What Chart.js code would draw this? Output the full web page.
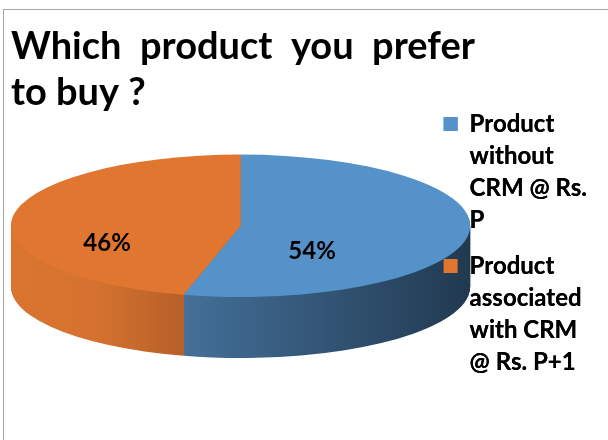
<!DOCTYPE html>
<html>
<head>
<meta charset="utf-8">
<script src="https://cdn.jsdelivr.net/npm/chart.js@4.4.1/dist/chart.umd.min.js"></script>
<style>
  html, body { margin: 0; padding: 0; background: #fff; overflow: hidden; }
  #wrap { position: relative; width: 608px; height: 440px; }
  #frame { position: absolute; left: 3px; top: 9px; width: 700px; height: 500px; border: 1px solid #a6a6a6; pointer-events: none; }
</style>
</head>
<body>
<div id="wrap">
  <canvas id="pieChart" width="608" height="440"></canvas>
  <div id="frame"></div>
</div>
<script>
// chart data
const categories = [
    ['Product', 'without', 'CRM @ Rs.', 'P'],
    ['Product', 'associated', 'with CRM', '@ Rs. P+1']
];
const shares = [54, 46];
const titleLines = ['Which  product  you  prefer', 'to buy ?'];

// colours: top face and the gradient of the side wall
const topColors = ['#5592ca', '#e0762f'];
const sideStops = [
    [[0, '#5a8ab8'], [0.36, '#45719b'], [1, '#213950']],
    [[0, '#da7530'], [0.18, '#d5722f'], [0.36, '#b9612a']]
];

// draws the pie as a tilted disc with a side wall, then the % labels
const pie3d = {
    id: 'pie3d',
    beforeDatasetsDraw(chart, args, opts) {
        const arcs = chart.getDatasetMeta(0).data;
        if (!arcs.length) return;
        const ctx = chart.ctx;
        const area = chart.chartArea;
        const R = arcs[0].outerRadius;
        const ox = arcs[0].x, oy = arcs[0].y;
        const rx = area.width / 2 * opts.reach;
        const ry = rx * opts.tilt;
        const depth = Math.round(rx * opts.depth);
        const cx = area.left + rx;
        const cy = area.top + (area.height - 2 * ry - depth) * opts.vAlign + ry;

        const grad = stops => {
            const g = ctx.createLinearGradient(ox - R, 0, ox + R, 0);
            stops.forEach(([p, c]) => g.addColorStop(p, c));
            return g;
        };

        const layer = (dy, fills) => {
            ctx.save();
            ctx.translate(cx, cy + dy);
            ctx.scale(rx / R, ry / R);
            ctx.translate(-ox, -oy);
            arcs.forEach((arc, i) => {
                const face = Object.create(arc);
                face.options = Object.assign({}, arc.options, { borderWidth: 0 });
                if (fills) face.options.backgroundColor = fills[i];
                face.draw(ctx);
            });
            ctx.restore();
        };

        const sides = sideStops.map(grad);
        for (let d = depth; d > 0; d--) layer(d, sides);
        layer(0, null);

        // percentage labels
        const values = chart.data.datasets[0].data;
        const total = values.reduce((a, b) => a + b, 0);
        ctx.save();
        ctx.font = 'bold 24px Lato';
        ctx.fillStyle = '#000';
        ctx.textAlign = 'center';
        ctx.textBaseline = 'middle';
        arcs.forEach((arc, i) => {
            const mid = (arc.startAngle + arc.endAngle) / 2;
            const x = cx + (Math.cos(mid) * opts.labelAt + opts.labelShift) * rx;
            const y = cy + Math.sin(mid) * ry * opts.labelAt + depth * opts.labelDrop;
            ctx.fillText(Math.round(values[i] / total * 100) + '%', x, y);
        });
        ctx.restore();
        return false;
    },
    // the legend sits over the right edge of the pie
    afterDraw(chart) {
        chart.legend.draw();
    }
};

const ctx = document.getElementById('pieChart').getContext('2d');
const pieChart = new Chart(ctx, {
    type: 'pie',
    data: {
        labels: categories,
        datasets: [{
            data: shares,
            backgroundColor: topColors,
            borderWidth: 0,
            clip: false
        }]
    },
    options: {
        responsive: false,
        animation: false,
        events: [],
        layout: { padding: { left: 11, right: 11, top: 0, bottom: 10 } },
        plugins: {
            pie3d: { reach: 1.097, tilt: 0.31, depth: 0.265, vAlign: 0.44, labelAt: 0.45, labelShift: -0.135, labelDrop: 0.35 },
            title: {
                display: true,
                text: titleLines,
                align: 'start',
                color: '#000',
                font: { family: 'Lato', size: 38, weight: 'bold', lineHeight: '46px' },
                padding: { top: 24, bottom: -18 }
            },
            legend: {
                position: 'right',
                align: 'start',
                fullSize: false,
                labels: {
                    boxWidth: 14,
                    boxHeight: 14,
                    padding: 14,
                    color: '#000',
                    font: { family: 'Lato', size: 24, weight: 'bold', lineHeight: '32px' }
                }
            },
            tooltip: { enabled: false }
        }
    },
    plugins: [pie3d]
});
</script>
</body>
</html>
